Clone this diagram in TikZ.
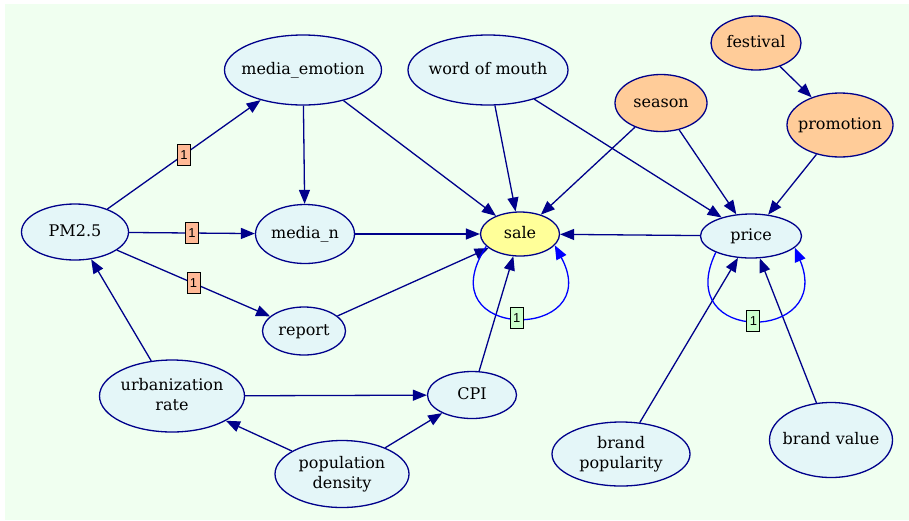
\documentclass[tikz,border=0pt]{standalone}
\usepackage{fontspec}
\setmainfont{DejaVu Serif}
\newfontfamily\lblfont{Liberation Sans}
\usetikzlibrary{shapes.geometric,arrows.meta}
\definecolor{edgeblue}{RGB}{0,0,139}
\definecolor{nodefill}{RGB}{228,246,248}
\definecolor{extfill}{RGB}{255,204,153}
\definecolor{salefill}{RGB}{255,255,153}
\definecolor{lblorange}{RGB}{255,185,150}
\definecolor{lblgreen}{RGB}{204,255,204}
\definecolor{bggreen}{RGB}{240,255,240}
\newcommand\nodetxt[1]{%
  \raisebox{-0.3em}[0pt][0pt]{\makebox[0pt]{\begin{tabular}{@{}c@{}}#1\end{tabular}}}%
}

\begin{document}
\begin{tikzpicture}[x=1pt,y=-1pt,>={Triangle[length=14pt,width=11pt]}]
  \useasboundingbox (0,0) rectangle (909,520);
  \fill[bggreen] (5,4) rectangle (909,520);

  \tikzstyle{vertex}=[ellipse,draw=edgeblue,line width=1.3pt,fill=nodefill,inner sep=0pt,font=\fontsize{16}{20}\selectfont]
  \tikzstyle{extvertex}=[vertex,fill=extfill]
  \tikzstyle{salevertex}=[vertex,fill=salefill]
  \tikzstyle{lbl}=[draw=black,line width=0.9pt,fill=lblorange,inner sep=0pt,minimum width=13pt,minimum height=21pt,font=\lblfont\fontsize{13}{13}\selectfont]
  \tikzstyle{lblg}=[lbl,fill=lblgreen]
  \tikzstyle{edge}=[draw=edgeblue,line width=1.3pt,->]
  \tikzstyle{selfloop}=[draw=blue,line width=1.3pt,->]

  \node[vertex,minimum width=157pt,minimum height=70pt] (emotion) at (303,70) {\nodetxt{media\_emotion}};
  \node[vertex,minimum width=160pt,minimum height=70pt] (mouth) at (488,70) {\nodetxt{word of mouth}};
  \node[extvertex,minimum width=90pt,minimum height=54pt] (festival) at (756,43) {\nodetxt{festival}};
  \node[extvertex,minimum width=92pt,minimum height=57pt] (season) at (661,103) {\nodetxt{season}};
  \node[extvertex,minimum width=106pt,minimum height=64pt] (promotion) at (840,125) {\nodetxt{promotion}};
  \node[vertex,minimum width=107pt,minimum height=56pt] (pm) at (75,232) {\nodetxt{PM2.5}};
  \node[vertex,minimum width=99pt,minimum height=59pt] (median) at (305,234) {\nodetxt{media\_n}};
  \node[salevertex,minimum width=79pt,minimum height=44pt] (sale) at (520,234) {\nodetxt{sale}};
  \node[vertex,minimum width=101pt,minimum height=44pt] (price) at (751,236) {\nodetxt{price}};
  \node[vertex,minimum width=83pt,minimum height=48pt] (report) at (304,331) {\nodetxt{report}};
  \node[vertex,minimum width=145pt,minimum height=72pt] (urban) at (172,396) {\nodetxt{urbanization\\rate}};
  \node[vertex,minimum width=89pt,minimum height=47pt] (cpi) at (472,395) {\nodetxt{CPI}};
  \node[vertex,minimum width=134pt,minimum height=67pt] (density) at (342,474) {\nodetxt{population\\density}};
  \node[vertex,minimum width=138pt,minimum height=64pt] (popularity) at (621,454) {\nodetxt{brand\\popularity}};
  \node[vertex,minimum width=123pt,minimum height=75pt] (value) at (831,440) {\nodetxt{brand value}};

  \foreach \from/\to in {emotion/median,emotion/sale,median/sale,report/sale,mouth/sale,mouth/price,
    season/sale,season/price,festival/promotion,promotion/price,price/sale,cpi/sale,
    urban/pm,urban/cpi,density/urban,density/cpi,popularity/price,value/price}
    \path[edge] (\from) -- (\to);

  \foreach \to in {emotion,median,report}
    \path[edge] (pm) -- node[lbl] {1} (\to);

  % self loops
  \path[selfloop] (sale.200) .. controls +(-62,96) and +(52,97) .. node[lblg] {1} (sale.-18);
  \path[selfloop] (price.205) .. controls +(-45,93) and +(40,95) .. node[lblg] {1} (price.-15);
\end{tikzpicture}
\end{document}
